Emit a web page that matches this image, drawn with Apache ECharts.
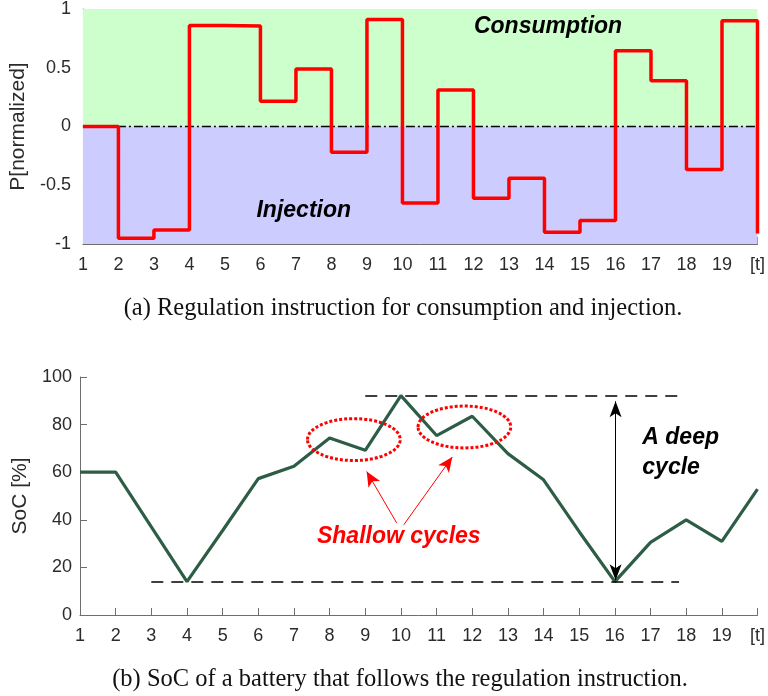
<!DOCTYPE html>
<html>
<head>
<meta charset="utf-8">
<script src="https://cdn.jsdelivr.net/npm/echarts@6/dist/echarts.min.js"></script>
<style>
  html, body { margin: 0; padding: 0; background: #fff; }
  #main { width: 768px; height: 696px; }
</style>
</head>
<body>
<div id="main"></div>
<script>
// time steps and tick labels (last tick shows the unit)
const tSteps = [1, 2, 3, 4, 5, 6, 7, 8, 9, 10, 11, 12, 13, 14, 15, 16, 17, 18, 19, 20];
const xTickLabels = ['1', '2', '3', '4', '5', '6', '7', '8', '9', '10',
  '11', '12', '13', '14', '15', '16', '17', '18', '19', '[t]'];

// (a) regulation instruction, value held from t to t+1
const pValues = [0, -0.95, -0.88, 0.86, 0.855, 0.215, 0.49, -0.22, 0.91, -0.65,
  0.31, -0.61, -0.44, -0.9, -0.8, 0.645, 0.39, -0.365, 0.9, -0.91];

// (b) state of charge
const socValues = [60, 60, 37, 14, 35.5, 57.3, 62.5, 74.4, 69.2, 92.2,
  75.4, 83.5, 67.8, 56.8, 35, 14, 30.5, 40, 30.9, 52.9];

const axisGray = '#6e6e6e';
const textGray = '#2b2b2b';
const annoFont = { fontFamily: 'Liberation Sans', fontSize: 23, fontWeight: 'bold', fontStyle: 'italic' };

function xAxisCfg(gridIndex) {
  return {
    gridIndex: gridIndex,
    type: 'value',
    min: 1,
    max: 20,
    interval: 1,
    axisLine: { onZero: false, lineStyle: { color: axisGray, width: 1 } },
    axisTick: { inside: true, length: 7, lineStyle: { color: axisGray } },
    splitLine: { show: false },
    axisLabel: {
      margin: 12,
      color: textGray,
      fontSize: 18,
      fontFamily: 'Liberation Sans',
      formatter: (v) => xTickLabels[tSteps.indexOf(v)]
    }
  };
}

function yAxisCfg(gridIndex, min, max, interval, name, labelMargin) {
  return {
    gridIndex: gridIndex,
    type: 'value',
    min: min,
    max: max,
    interval: interval,
    name: name,
    nameLocation: 'middle',
    nameRotate: 90,
    nameGap: 47,
    nameTextStyle: { color: textGray, fontSize: 21, fontFamily: 'Liberation Sans' },
    axisLine: { show: true, lineStyle: { color: axisGray, width: 1 } },
    axisTick: { show: true, inside: true, length: 7, lineStyle: { color: axisGray } },
    splitLine: { show: false },
    axisLabel: { margin: labelMargin, color: textGray, fontSize: 18, fontFamily: 'Liberation Sans' }
  };
}

const chart = echarts.init(document.getElementById('main'), null, { renderer: 'canvas' });

chart.setOption({
  animation: false,
  backgroundColor: '#fff',
  grid: [
    { left: 80, right: 10, top: 6, height: 238 },
    { left: 80, right: 10, top: 377, height: 238 }
  ],
  xAxis: [xAxisCfg(0), xAxisCfg(1)],
  yAxis: [
    yAxisCfg(0, -1, 1, 0.5, 'P[normalized]', 12),
    yAxisCfg(1, 0, 100, 20, 'SoC [%]', 8)
  ],
  graphic: [
    {
      type: 'text', x: 403, y: 309,
      style: {
        text: '(a) Regulation instruction for consumption and injection.',
        fontFamily: 'Liberation Serif', fontSize: 24.5, fill: '#111',
        align: 'center', verticalAlign: 'middle'
      }
    },
    {
      type: 'text', x: 400, y: 680,
      style: {
        text: '(b) SoC of a battery that follows the regulation instruction.',
        fontFamily: 'Liberation Serif', fontSize: 24.5, fill: '#111',
        align: 'center', verticalAlign: 'middle'
      }
    }
  ],
  series: [
    // zero line (dash-dot), under the step line
    {
      name: 'zero',
      type: 'line',
      xAxisIndex: 0, yAxisIndex: 0,
      z: 2,
      symbol: 'none',
      silent: true,
      data: [[tSteps[0], 0], [tSteps[tSteps.length - 1], 0]],
      lineStyle: { color: '#000', width: 1.4, type: [9, 3, 2, 3] }
    },
    // regulation instruction
    {
      name: 'P',
      type: 'line',
      xAxisIndex: 0, yAxisIndex: 0,
      z: 3,
      step: 'end',
      symbol: 'none',
      clip: false,
      data: tSteps.map((t, i) => [t, pValues[i]]),
      lineStyle: { color: '#ff0000', width: 3.5 },
      markArea: {
        silent: true,
        data: [
          [{ yAxis: 0, itemStyle: { color: '#ccffcc' } }, { yAxis: 1 }],
          [{ yAxis: -1, itemStyle: { color: '#ccccff' } }, { yAxis: 0 }]
        ]
      },
      markPoint: {
        silent: true,
        symbol: 'circle',
        symbolSize: 0,
        label: Object.assign({ show: true, position: 'inside', color: '#000' }, annoFont),
        data: [
          { coord: [14.1, 0.85], label: { formatter: 'Consumption' } },
          { coord: [7.22, -0.72], label: { formatter: 'Injection' } }
        ]
      }
    },
    // state of charge
    {
      name: 'SoC',
      type: 'line',
      xAxisIndex: 1, yAxisIndex: 1,
      z: 3,
      symbol: 'none',
      data: tSteps.map((t, i) => [t, socValues[i]]),
      lineStyle: { color: '#2d5e45', width: 3.2 },
      markLine: {
        silent: true,
        label: { show: false },
        data: [
          [
            { coord: [3, 14], symbol: 'none', lineStyle: { color: '#000', width: 1.5, type: [12, 8] } },
            { coord: [17.8, 14], symbol: 'none' }
          ],
          [
            { coord: [9, 92.2], symbol: 'none', lineStyle: { color: '#000', width: 1.5, type: [12, 8] } },
            { coord: [17.8, 92.2], symbol: 'none' }
          ],
          [
            { coord: [16.02, 89.8], symbol: 'arrow', symbolSize: [9, 16], lineStyle: { color: '#000', width: 1, type: 'solid' } },
            { coord: [16.02, 14.6], symbol: 'arrow', symbolSize: [9, 16] }
          ],
          [
            { coord: [9.88, 38.7], symbol: 'none', lineStyle: { color: '#ff0000', width: 1, type: 'solid' } },
            { coord: [9.04, 60.3], symbol: 'arrow', symbolSize: [10, 15] }
          ],
          [
            { coord: [10.08, 37.9], symbol: 'none', lineStyle: { color: '#ff0000', width: 1, type: 'solid' } },
            { coord: [11.44, 66.4], symbol: 'arrow', symbolSize: [10, 15] }
          ]
        ]
      },
      markPoint: {
        silent: true,
        symbol: 'circle',
        symbolSize: 0,
        data: [
          {
            coord: [9.94, 32.8],
            label: Object.assign({ show: true, position: 'inside', color: '#ff0000', formatter: 'Shallow cycles' }, annoFont)
          },
          {
            coord: [16.77, 68.4],
            label: Object.assign({ show: true, position: 'right', distance: 0, align: 'left', lineHeight: 30, color: '#000', formatter: 'A deep\ncycle' }, annoFont)
          }
        ]
      }
    },
    // dotted ellipses around the shallow cycles
    {
      name: 'shallow',
      type: 'custom',
      xAxisIndex: 1, yAxisIndex: 1,
      z: 4,
      silent: true,
      data: [[8.68, 73.7], [11.78, 79]],
      renderItem: function (params, api) {
        const c = api.coord([api.value(0), api.value(1)]);
        const s = api.size([1.3, 8.8]);
        return {
          type: 'ellipse',
          shape: { cx: c[0], cy: c[1], rx: s[0], ry: s[1] },
          style: { fill: 'none', stroke: '#ff0000', lineWidth: 3, lineDash: [3, 2] }
        };
      }
    }
  ]
});

window.onresize = chart.resize;
</script>
</body>
</html>
